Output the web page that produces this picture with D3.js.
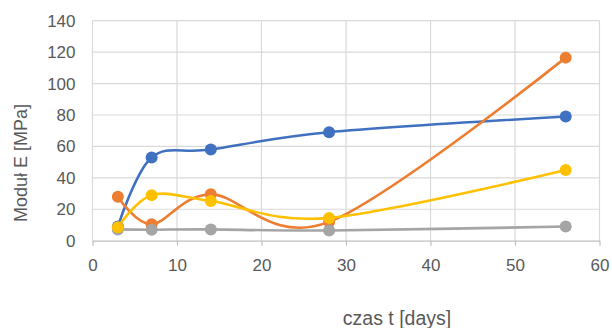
<!DOCTYPE html>
<html><head><meta charset="utf-8">
<script src="https://cdn.jsdelivr.net/npm/d3@7"></script>
<style>body{margin:0;background:#fff}svg{display:block}</style>
</head><body>
<script>
const days = [3, 7, 14, 28, 56];
const blue = [9, 53, 58, 69, 79];
const orange = [28, 10.5, 29.5, 12, 116.5];
const gray = [7.2, 7, 7.2, 6.5, 9];
const yellow = [8.5, 29, 25.3, 14.5, 45];
const xTicks = [0, 10, 20, 30, 40, 50, 60];
const yTicks = [0, 20, 40, 60, 80, 100, 120, 140];
const seriesList = [
  {name: "blue", values: blue, color: "#4070C0"},
  {name: "orange", values: orange, color: "#ED7D31"},
  {name: "gray", values: gray, color: "#A5A5A5"},
  {name: "yellow", values: yellow, color: "#FFC000"}
];

const W = 612, H = 328;
const m = {left: 92.5, right: 12.5, top: 20.7, bottom: 87.3};
const svg = d3.select("body").append("svg").attr("width", W).attr("height", H);
const x = d3.scaleLinear().domain([0, 60]).range([m.left, W - m.right]);
const y = d3.scaleLinear().domain([0, 140]).range([H - m.bottom, m.top]);
const font = "'Liberation Sans', Arial, sans-serif";
const txt = "#595959";

// gridlines
const g = svg.append("g");
g.selectAll(".hg").data(yTicks.filter(d => d > 0)).enter().append("line")
  .attr("x1", x(0)).attr("x2", x(60)).attr("y1", d => y(d)).attr("y2", d => y(d))
  .attr("stroke", "#d9d9d9").attr("stroke-width", 1.2);
g.selectAll(".vg").data(xTicks).enter().append("line")
  .attr("x1", d => x(d)).attr("x2", d => x(d)).attr("y1", y(0)).attr("y2", y(140))
  .attr("stroke", "#d9d9d9").attr("stroke-width", 1.2);

// x axis
const xa = svg.append("g").attr("transform", `translate(0,${y(0)})`)
  .call(d3.axisBottom(x).tickValues(xTicks).tickSize(5).tickSizeOuter(0).tickPadding(13));
xa.select(".domain").attr("stroke", "#bfbfbf").attr("stroke-width", 1.2);
xa.selectAll(".tick line").attr("stroke", "#bfbfbf").attr("stroke-width", 1.2);
xa.selectAll("text").attr("fill", txt).style("font-family", font).style("font-size", "17px");

// y axis labels
const ya = svg.append("g").attr("transform", `translate(${x(0)},0)`)
  .call(d3.axisLeft(y).tickValues(yTicks).tickSize(0).tickPadding(17));
ya.select(".domain").remove();
ya.selectAll("text").attr("fill", txt).style("font-family", font).style("font-size", "17px");

// axis titles
svg.append("text").attr("x", 397).attr("y", 325).attr("text-anchor", "middle")
  .attr("fill", txt).style("font-family", font).style("font-size", "19.5px").text("czas t [days]");
svg.append("text").attr("transform", "translate(27,163) rotate(-90)").attr("text-anchor", "middle")
  .attr("fill", txt).style("font-family", font).style("font-size", "18px").text("Moduł E [MPa]");

// series
const line = d3.line().x(d => x(d[0])).y(d => y(d[1])).curve(d3.curveCardinal.tension(0));
seriesList.forEach(s => {
  const pts = days.map((d, i) => [d, s.values[i]]);
  svg.append("path").datum(pts).attr("d", line).attr("fill", "none")
    .attr("stroke", s.color).attr("stroke-width", 2.6);
  svg.selectAll(".p-" + s.name).data(pts).enter().append("circle")
    .attr("cx", d => x(d[0])).attr("cy", d => y(d[1])).attr("r", 6)
    .attr("fill", s.color);
});
</script>
</body></html>
